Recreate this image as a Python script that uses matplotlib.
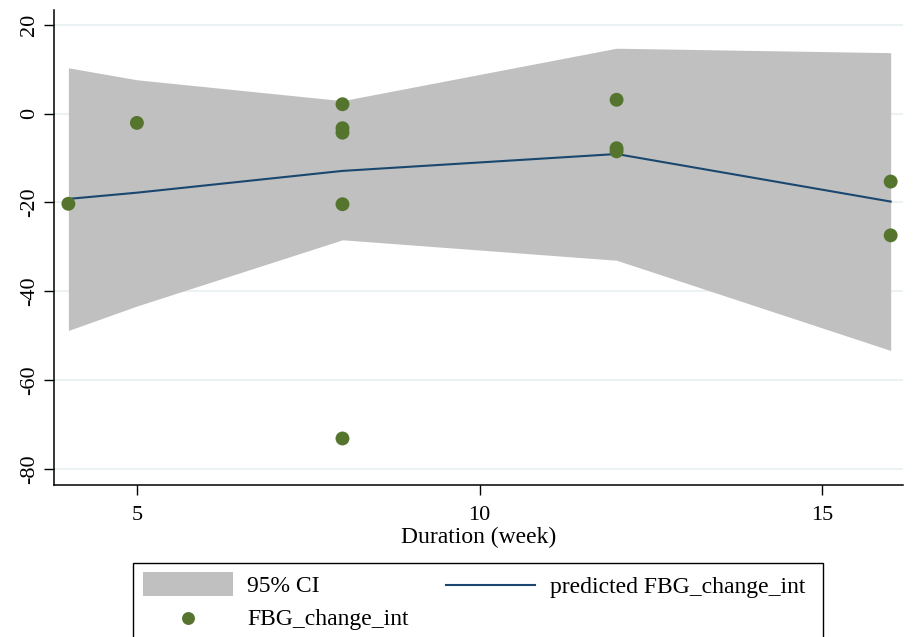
import matplotlib
matplotlib.use("Agg")
import matplotlib.pyplot as plt
from matplotlib.patches import Rectangle
from matplotlib.lines import Line2D

# Data
pred_x = [4, 5, 8, 12, 16]
ci_upper = [10.3, 7.6, 2.9, 14.7, 13.7]
ci_lower = [-48.8, -43.3, -28.4, -33.0, -53.3]
pred_y = [-19.2, -17.8, -12.9, -9.1, -19.8]

obs_x = [4, 5, 8, 8, 8, 8, 8, 12, 12, 12, 16, 16]
obs_y = [-20.3, -2.1, 2.1, -3.3, -4.3, -20.4, -73.1, 3.1, -7.8, -8.5, -15.3, -27.4]

xticks = [5, 10, 15]
yticks = [-80, -60, -40, -20, 0, 20]

labels = ['95% CI', 'FBG_change_int', 'predicted FBG_change_int']

BAND = '#C0C0C0'
NAVY = '#1A476F'
GREEN = '#55752F'

plt.rcParams['font.family'] = ['Liberation Serif', 'DejaVu Serif']

W, H = 914, 637
fig = plt.figure(figsize=(W/100, H/100), dpi=100)
ax = fig.add_axes([54/W, 1 - 484.7/H, (903-54)/W, (484.7-10)/H])

ax.set_xlim(3.79, 16.18)
ax.set_ylim(-83.5, 23.3)

for t in yticks:
    ax.axhline(t, color='#EAF2F3', lw=1.5, zorder=0)

ax.fill_between(pred_x, ci_lower, ci_upper, color=BAND, lw=0, zorder=1)
ax.plot(pred_x, pred_y, color=NAVY, lw=1.5, zorder=2)
ax.scatter(obs_x, obs_y, s=100, color=GREEN, edgecolors='none', zorder=3)

ax.set_xticks(xticks)
ax.set_yticks(yticks)
ax.set_yticklabels([str(t) for t in yticks], rotation=90, va='center')
ax.tick_params(axis='both', direction='out', length=7, width=1, labelsize=16, colors='black')
ax.tick_params(axis='x', pad=8)
ax.tick_params(axis='y', pad=4)

for s in ['top', 'right']:
    ax.spines[s].set_visible(False)
for s in ['left', 'bottom']:
    ax.spines[s].set_linewidth(1.1)
    ax.spines[s].set_color('black')

ax.set_xlabel('Duration (week)', fontsize=17, labelpad=2)

# Legend (drawn in figure pixel coordinates)
def fx(px):
    return px / W

def fy(py):
    return 1 - py / H

fig.patches.append(Rectangle((fx(133), fy(645)), fx(823) - fx(133), fy(563) - fy(645),
                             transform=fig.transFigure, facecolor='white',
                             edgecolor='black', lw=1.0, zorder=5))
fig.patches.append(Rectangle((fx(143), fy(596)), fx(233) - fx(143), fy(572) - fy(596),
                             transform=fig.transFigure, facecolor=BAND,
                             edgecolor='none', zorder=6))
fig.lines.append(Line2D([fx(188)], [fy(618)], transform=fig.transFigure, marker='o',
                        markersize=9.3, color=GREEN, markeredgewidth=0, ls='none', zorder=6))
fig.lines.append(Line2D([fx(446), fx(535)], [fy(585), fy(585)], transform=fig.transFigure,
                        color=NAVY, lw=1.5, zorder=6))
fig.text(fx(247), fy(587), labels[0], fontsize=17, va='center', ha='left', zorder=7)
fig.text(fx(247), fy(620), labels[1], fontsize=17, va='center', ha='left', zorder=7)
fig.text(fx(550), fy(587), labels[2], fontsize=17, va='center', ha='left', zorder=7)

fig.savefig('out.png', dpi=100)
